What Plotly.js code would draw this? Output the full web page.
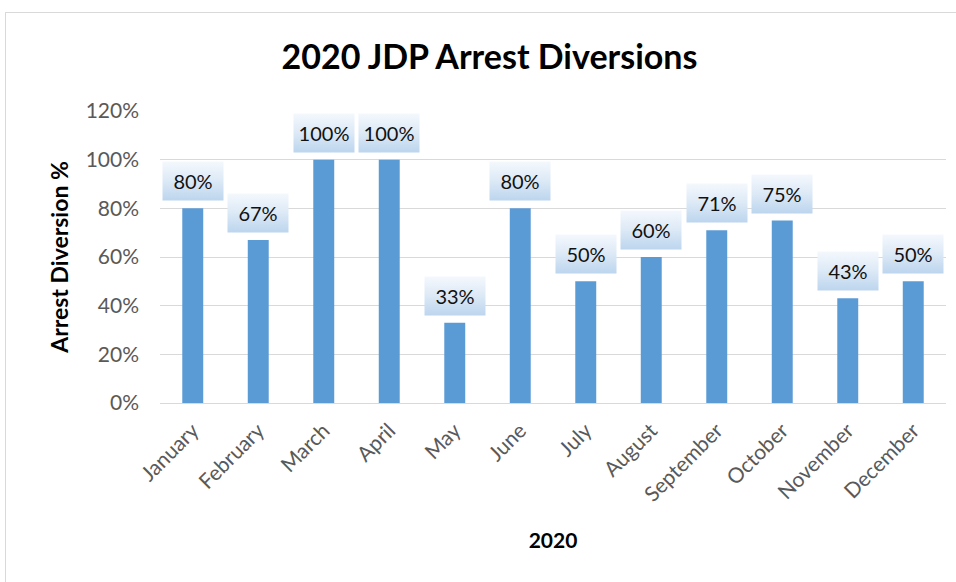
<!DOCTYPE html>
<html>
<head>
<meta charset="utf-8">
<script src="https://cdn.plot.ly/plotly-3.0.1.min.js"></script>
<style>
  html, body { margin: 0; padding: 0; background: #fff; overflow: hidden; }
  #frame { position: absolute; left: 5px; top: 12px; width: 1000px; height: 600px; border: 1px solid #d9d9d9; }
  #chart { position: absolute; left: 0; top: 0; width: 956px; height: 582px; }
</style>
</head>
<body>
<div id="frame"></div>
<div id="chart"></div>
<script>
const months = ["January", "February", "March", "April", "May", "June", "July", "August", "September", "October", "November", "December"];
const diversionRate = [0.80, 0.67, 1.00, 1.00, 0.33, 0.80, 0.50, 0.60, 0.71, 0.75, 0.43, 0.50];
const valueLabels = ["80%", "67%", "100%", "100%", "33%", "80%", "50%", "60%", "71%", "75%", "43%", "50%"];

const font = "Lato, 'Open Sans', sans-serif";

const annotations = months.map((m, i) => ({
  x: m, y: diversionRate[i], xref: 'x', yref: 'y',
  text: valueLabels[i], showarrow: false,
  yanchor: 'bottom', yshift: 7,
  width: 58, height: 36,
  bgcolor: '#d9e7f5', borderpad: 1,
  font: { family: font, size: 20, color: '#111' }
}));

Plotly.newPlot('chart', [{
  type: 'bar', x: months, y: diversionRate,
  marker: { color: '#5b9bd5' },
  hoverinfo: 'skip'
}], {
  width: 956, height: 582,
  margin: { l: 160, r: 10, t: 111, b: 179 },
  paper_bgcolor: 'rgba(0,0,0,0)', plot_bgcolor: 'rgba(0,0,0,0)',
  bargap: 0.68,
  showlegend: false,
  title: { text: '<b>2020 JDP Arrest Diversions</b>', x: 0.512, xanchor: 'center', y: 0.902, yanchor: 'middle',
           font: { family: font, size: 34, color: '#000' } },
  xaxis: {
    tickangle: -45, tickfont: { family: font, size: 21, color: '#595959' },
    showline: true, linecolor: '#d9d9d9', linewidth: 1, ticks: '',
    ticklabelstandoff: 6,
    title: { text: '<b>2020</b>', font: { family: font, size: 21, color: '#000' }, standoff: 28 }
  },
  yaxis: {
    range: [0, 1.2], dtick: 0.2, tickformat: '.0%',
    tickfont: { family: font, size: 21, color: '#595959' },
    gridcolor: '#d9d9d9', zeroline: false, ticks: '', ticklen: 0,
    ticklabelstandoff: 20,
    title: { text: '<b>Arrest Diversion %</b>', font: { family: font, size: 23, color: '#000' }, standoff: 10 }
  },
  annotations: annotations
}, { displayModeBar: false, staticPlot: true }).then(gd => {
  const svgNS = 'http://www.w3.org/2000/svg';
  const svgs = gd.querySelectorAll('svg.main-svg');
  svgs.forEach(svg => {
    let defs = svg.querySelector('defs');
    if (!defs) { defs = document.createElementNS(svgNS, 'defs'); svg.insertBefore(defs, svg.firstChild); }
    const g = document.createElementNS(svgNS, 'linearGradient');
    g.setAttribute('id', 'lblGrad');
    g.setAttribute('x1', '0'); g.setAttribute('y1', '0'); g.setAttribute('x2', '0'); g.setAttribute('y2', '1');
    [['0', '#f4f8fd'], ['0.5', '#dce9f6'], ['1', '#bcd5ee']].forEach(([o, c]) => {
      const s = document.createElementNS(svgNS, 'stop');
      s.setAttribute('offset', o); s.setAttribute('stop-color', c);
      g.appendChild(s);
    });
    defs.appendChild(g);
  });
  gd.querySelectorAll('g.annotation rect.bg').forEach(r => {
    r.style.fill = 'url(#lblGrad)';
    r.style.fillOpacity = 1;
  });
});
</script>
</body>
</html>
